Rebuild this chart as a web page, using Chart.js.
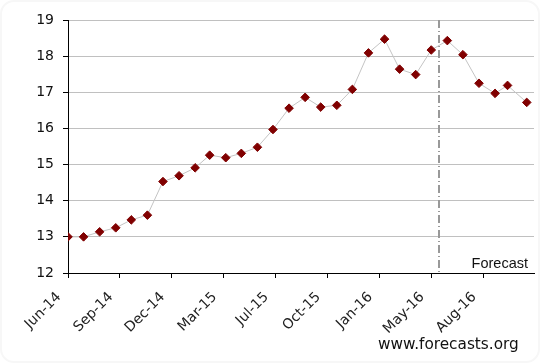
<!DOCTYPE html>
<html>
<head>
<meta charset="utf-8">
<script src="https://cdn.jsdelivr.net/npm/chart.js@4"></script>
<style>
  html, body { margin: 0; padding: 0; background: #fff; }
  #wrap { position: relative; width: 540px; height: 363px; overflow: hidden; }
  #frame { position: absolute; left: 0; top: 0; width: 536px; height: 359px; border: 2px solid #f7f7f7; border-radius: 14px; pointer-events: none; }
  #src { position: absolute; left: 378px; top: 335px; font: 15.3px "DejaVu Sans", Verdana, sans-serif; color: #111; }
</style>
</head>
<body>
<div id="wrap">
  <canvas id="chartR" width="540" height="363"></canvas>
  <div id="frame"></div>
  <div id="src">www.forecasts.org</div>
</div>
<script>
const dates = [
  '2014-06-01', '2014-07-01', '2014-08-01', '2014-09-01', '2014-10-01', '2014-11-01',
  '2014-12-01', '2015-01-01', '2015-02-01', '2015-03-01', '2015-04-01', '2015-05-01',
  '2015-06-01', '2015-07-01', '2015-08-01', '2015-09-01', '2015-10-01', '2015-11-01',
  '2015-12-01', '2016-01-01', '2016-02-01', '2016-03-01', '2016-04-01', '2016-05-01',
  '2016-06-01', '2016-07-01', '2016-08-01', '2016-09-01', '2016-09-25', '2016-11-01'
];
const values = [
  13.00, 13.00, 13.14, 13.25, 13.47, 13.60,
  14.53, 14.69, 14.91, 15.26, 15.19, 15.31,
  15.48, 15.97, 16.56, 16.86, 16.59, 16.64,
  17.08, 18.09, 18.47, 17.64, 17.49, 18.17,
  18.43, 18.04, 17.25, 16.97, 17.19, 16.72
];
const tickDates = ['2014-06-01', '2014-09-09', '2014-12-18', '2015-03-28', '2015-07-06', '2015-10-14', '2016-01-22', '2016-05-01', '2016-08-09'];
const tickLabels = ['Jun-14', 'Sep-14', 'Dec-14', 'Mar-15', 'Jul-15', 'Oct-15', 'Jan-16', 'May-16', 'Aug-16'];
const axisEnd = '2016-11-15';
const forecastStart = '2016-05-16';
const forecastLabel = 'Forecast';

const origin = Date.UTC(2014, 5, 1);
function dayOf(s) {
  const [y, m, d] = s.split('-').map(Number);
  return Math.round((Date.UTC(y, m - 1, d) - origin) / 86400000);
}

const points = dates.map((d, i) => ({ x: dayOf(d), y: values[i] }));
const tickVals = tickDates.map(dayOf);

// dash-dot line marking where the forecast begins + label
const forecastMarker = {
  id: 'forecastMarker',
  beforeDatasetsDraw(chart) {
    const { ctx, chartArea, scales } = chart;
    const x = Math.round(scales.x.getPixelForValue(dayOf(forecastStart)));
    ctx.save();
    ctx.strokeStyle = '#999';
    ctx.lineWidth = 2;
    ctx.setLineDash([8, 3, 1, 3]);
    ctx.beginPath();
    ctx.moveTo(x, chartArea.top);
    ctx.lineTo(x, chartArea.bottom);
    ctx.stroke();
    ctx.restore();
  },
  afterDatasetsDraw(chart) {
    const { ctx, chartArea } = chart;
    ctx.save();
    ctx.font = '14.5px "Liberation Sans", Arial, sans-serif';
    ctx.fillStyle = '#111';
    ctx.textAlign = 'right';
    ctx.textBaseline = 'alphabetic';
    ctx.fillText(forecastLabel, chartArea.right - 6, chartArea.bottom - 5);
    ctx.restore();
  }
};

new Chart(document.getElementById('chartR'), {
  type: 'line',
  data: {
    datasets: [{
      data: points,
      borderColor: '#c4c4c4',
      borderWidth: 1,
      tension: 0,
      pointStyle: 'rectRot',
      pointRadius: 4.3,
      pointBorderWidth: 1,
      pointBackgroundColor: '#800000',
      pointBorderColor: '#800000',
    }]
  },
  options: {
    responsive: false,
    animation: false,
    devicePixelRatio: 1,
    layout: { padding: { left: 0, right: 6, top: 20, bottom: 0 } },
    plugins: { legend: { display: false }, tooltip: { enabled: false } },
    scales: {
      x: {
        type: 'linear',
        min: 0,
        max: dayOf(axisEnd),
        afterBuildTicks: (s) => { s.ticks = tickVals.map(v => ({ value: v })); },
        afterFit: (s) => { s.height = 90; },
        border: { color: '#000', width: 1 },
        grid: { drawOnChartArea: false, tickLength: 5, tickColor: '#000' },
        ticks: {
          autoSkip: false,
          minRotation: 45,
          maxRotation: 45,
          padding: 11,
          labelOffset: -9,
          color: '#222',
          font: { family: '"DejaVu Sans", Verdana, sans-serif', size: 14 },
          callback: (v, i) => tickLabels[i]
        }
      },
      y: {
        min: 12,
        max: 19,
        afterFit: (s) => { s.width = 68; },
        border: { color: '#000', width: 1 },
        grid: { color: '#c0c0c0', tickLength: 5, tickColor: '#000' },
        ticks: {
          stepSize: 1,
          padding: 9,
          color: '#111',
          font: { family: '"DejaVu Sans", Verdana, sans-serif', size: 14 }
        }
      }
    }
  },
  plugins: [forecastMarker]
});
</script>
</body>
</html>
